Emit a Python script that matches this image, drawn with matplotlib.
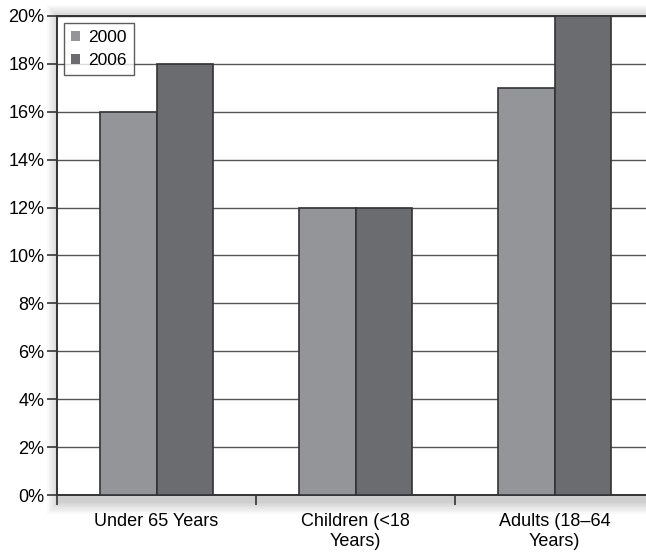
import matplotlib.pyplot as plt
import matplotlib.patches as mpatches
from matplotlib.ticker import FuncFormatter
import numpy as np

categories = ["Under 65 Years", "Children (<18\nYears)", "Adults (18\u201364\nYears)"]
years = ["2000", "2006"]
values_2000 = [16, 12, 17]
values_2006 = [18, 12, 20]
colors = ["#939598", "#6b6c70"]

plt.rcParams["font.family"] = ["Liberation Sans", "DejaVu Sans"]

fig = plt.figure(figsize=(6.46, 5.58), dpi=100)
W, H = 646, 558
left, right, top, bottom = 57, 654, 16, 495
ax = fig.add_axes([left / W, 1 - bottom / H, (right - left) / W, (bottom - top) / H])
ax.set_zorder(2)

# soft drop shadow behind the plot frame
for i in range(8):
    pad = (8 - i) * 1.6
    r = mpatches.Rectangle(((left - pad + 3) / W, (H - bottom - pad - 6) / H),
                           (right - left + 2 * pad) / W, (bottom - top + 2 * pad + 4) / H,
                           transform=fig.transFigure, facecolor="black",
                           alpha=0.022, edgecolor="none", zorder=0)
    fig.patches.append(r)

x = np.arange(len(categories))
w = 0.285
ax.bar(x - w / 2, values_2000, w, color=colors[0], edgecolor="#333333", linewidth=1.2,
       label=years[0], zorder=3)
ax.bar(x + w / 2, values_2006, w, color=colors[1], edgecolor="#333333", linewidth=1.2,
       label=years[1], zorder=3)

ax.set_xlim(-0.5, 2.5)
ax.set_ylim(0, 20)
ax.set_yticks(np.arange(0, 21, 2))
ax.yaxis.set_major_formatter(FuncFormatter(lambda v, p: f"{v:.0f}%"))
ax.grid(axis="y", color="#555555", linewidth=1.0, zorder=1)
ax.set_xticks([-0.5, 0.5, 1.5, 2.5])
ax.set_xticklabels([])
ax.set_xticks(x, minor=True)
ax.set_xticklabels(categories, minor=True)
ax.tick_params(axis="x", which="minor", length=0, pad=13, labelsize=13)
ax.tick_params(axis="x", which="major", length=7, width=1.2, direction="out",
               color="#333333")
ax.tick_params(axis="y", length=7, width=1.2, labelsize=13, color="#333333", pad=2)
for s in ax.spines.values():
    s.set_color("#333333")
    s.set_linewidth(1.4)
ax.set_facecolor("white")

leg = ax.legend(loc="upper left", bbox_to_anchor=(0.012, 0.985), fontsize=12.5,
                frameon=True, fancybox=False, handlelength=0.5, handleheight=0.5,
                handletextpad=0.5, borderpad=0.4, labelspacing=0.45,
                borderaxespad=0)
leg.get_frame().set_edgecolor("#333333")
leg.get_frame().set_linewidth(1.0)
for h in leg.legend_handles:
    h.set_edgecolor("none")

fig.savefig("out.png", dpi=100)
